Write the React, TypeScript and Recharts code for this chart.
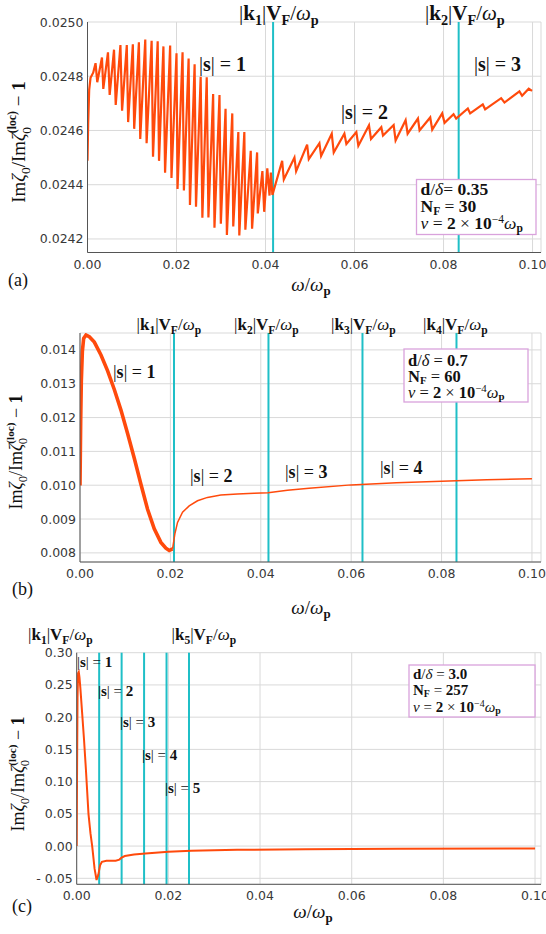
import { LineChart, Line, XAxis, YAxis, ReferenceLine, CartesianGrid } from 'recharts'

const W = 546
const ORANGE = '#ff4a0c'
const CYAN = '#1fbfc7'
const GRID = '#d9d9d9'
const FRAME = '#555555'
const TICK_TEXT = '#383838'
const PINK = '#d9a2dc'
const SERIF = '"Liberation Serif", "DejaVu Serif", serif'
const SANS = '"DejaVu Sans", sans-serif'

// ---- panel (a): d/δ = 0.35, N_F = 30 ----
const aOmega = [
  0, 0.00015, 0.00038, 0.00068, 0.00128,
  0.00181, 0.00219, 0.00325, 0.00355, 0.0046, 0.00498, 0.00596, 0.00634, 0.0074, 0.00777,
  0.00883, 0.00913, 0.01019, 0.01049, 0.01155, 0.01185, 0.01298, 0.01328, 0.01441, 0.01472,
  0.01577, 0.01607, 0.01706, 0.01743, 0.01857, 0.01887, 0.02, 0.02023, 0.02136, 0.02166,
  0.02272, 0.02302, 0.02407, 0.02438, 0.02543, 0.02581, 0.02679, 0.02717, 0.02823, 0.02853,
  0.02966, 0.02996, 0.03102, 0.03132, 0.03253, 0.03275, 0.03389, 0.03411, 0.03524, 0.03547,
  0.03668, 0.03698, 0.03811, 0.03826,
  0.0393, 0.0397, 0.0404, 0.0409, 0.0412, 0.04155,
  0.04374, 0.04411, 0.0465, 0.04688, 0.04935, 0.04972, 0.05211, 0.05249, 0.05488, 0.05533,
  0.05772, 0.05817, 0.06041, 0.06086, 0.06325, 0.0637, 0.06602, 0.0664, 0.06879, 0.06923,
  0.07148, 0.07193, 0.07425, 0.07462, 0.07701, 0.07746, 0.0797, 0.08023, 0.08225, 0.08284,
  0.08546, 0.08598, 0.08882, 0.08935, 0.09294, 0.09369, 0.09705, 0.09765, 0.09914, 0.09989,
]
const aValue = [
  0.024488, 0.024625, 0.02475, 0.024794, 0.024813,
  0.024848, 0.024778, 0.024869, 0.024753, 0.024888, 0.024731, 0.024898, 0.024694, 0.024915, 0.024673,
  0.024915, 0.024631, 0.024918, 0.024606, 0.024925, 0.024569, 0.024935, 0.024553, 0.024931, 0.024503,
  0.024929, 0.024488, 0.02491, 0.024444, 0.024913, 0.024425, 0.024885, 0.024384, 0.024888, 0.024379,
  0.024865, 0.024325, 0.024844, 0.024319, 0.024798, 0.024278, 0.024796, 0.024279, 0.024734, 0.024241,
  0.024731, 0.024256, 0.02468, 0.024215, 0.024663, 0.024246, 0.024594, 0.024213, 0.024594, 0.024234,
  0.024525, 0.024238, 0.024519, 0.024294,
  0.02445, 0.0243, 0.02446, 0.02436, 0.024445, 0.024362,
  0.024488, 0.024419, 0.0245, 0.02445, 0.024548, 0.024494, 0.024553, 0.024506, 0.024588, 0.024519,
  0.024588, 0.02455, 0.024594, 0.024544, 0.024619, 0.024569, 0.024612, 0.024581, 0.02462, 0.024563,
  0.024638, 0.024588, 0.024644, 0.0246, 0.024648, 0.024603, 0.024663, 0.024628, 0.02466, 0.024644,
  0.024681, 0.024663, 0.024696, 0.024678, 0.024719, 0.024703, 0.024744, 0.024728, 0.024754, 0.024746,
]
const aKLines = [0.0417, 0.0834]
const aYTicks = [0.0242, 0.0244, 0.0246, 0.0248, 0.025]

// ---- panel (b): d/δ = 0.7, N_F = 60 ----
const bBulkOmega = [
  0, 0.00015, 0.00029, 0.00052, 0.00081, 0.00133, 0.00206, 0.00317, 0.00464, 0.00611, 0.00759,
  0.00906, 0.01053, 0.01201, 0.01348, 0.01495, 0.01643, 0.0179, 0.019, 0.01974, 0.02048,
]
const bBulkValue = [
  0.00999, 0.01189, 0.01307, 0.01395, 0.01434, 0.01444, 0.01439, 0.01423, 0.01385, 0.01338, 0.01283,
  0.01222, 0.01153, 0.0108, 0.01003, 0.00929, 0.00871, 0.00831, 0.00814, 0.00807, 0.00812,
]
const bTailOmega = [
  0.02048, 0.02099, 0.02158, 0.02269, 0.02416, 0.026, 0.02821, 0.03116, 0.03484, 0.03852,
  0.04162, 0.04589, 0.05068, 0.06, 0.07, 0.08, 0.09, 0.1,
]
const bTailValue = [
  0.00812, 0.00856, 0.0089, 0.0092, 0.00939, 0.00954, 0.00964, 0.00971, 0.00974, 0.00976,
  0.00978, 0.00985, 0.00991, 0.01001, 0.01007, 0.01012, 0.01016, 0.01019,
]
const bKLines = [0.0208, 0.0417, 0.0625, 0.0833]
const bYTicks = [0.008, 0.009, 0.01, 0.011, 0.012, 0.013, 0.014]

// ---- panel (c): d/δ = 3.0, N_F = 257 ----
const cOmega = [
  0, 0.00008, 0.00018, 0.0003, 0.00045, 0.0006, 0.0008, 0.0012, 0.0016, 0.002,
  0.00257, 0.003, 0.00338, 0.0039, 0.00433, 0.0047, 0.0051, 0.0055, 0.0065, 0.0085,
  0.0093, 0.0098, 0.0105, 0.0125, 0.015, 0.02, 0.025, 0.035, 0.05, 0.07, 0.1,
]
const cValue = [
  0, 0.12, 0.23, 0.268, 0.27, 0.262, 0.245, 0.205, 0.165, 0.12,
  0.05, 0.02, 0, -0.035, -0.0526, -0.045, -0.03, -0.0245, -0.0228, -0.0226,
  -0.021, -0.018, -0.0155, -0.013, -0.0115, -0.0088, -0.0072, -0.0058, -0.0048, -0.0042, -0.0038,
]
const cKLines = [0.0049, 0.0098, 0.0147, 0.0196, 0.0245]
const cYTicks = [-0.05, 0, 0.05, 0.1, 0.15, 0.2, 0.25, 0.3]

const xTicks = [0, 0.02, 0.04, 0.06, 0.08, 0.1]

const zip = (ws: number[], vs: number[]) => ws.map((w, i) => ({ w, v: vs[i] }))

// minor tick positions between the labelled ones
function minors(lo: number, hi: number, step: number) {
  const out: number[] = []
  const n = Math.round((hi - lo) / step)
  for (let i = 0; i <= n; i++) out.push(+(lo + i * step).toFixed(6))
  return out
}

const isMajor = (v: number, majors: number[]) => majors.some((m) => Math.abs(m - v) < 1e-9)

type Series = { data: { w: number; v: number }[]; width: number }

interface PanelProps {
  y: number
  height: number
  top: number
  left: number
  right: number
  bottom: number
  xDomain: [number, number]
  yDomain: [number, number]
  yTicks: number[]
  xMinor: number[]
  yMinor: number[]
  yFmt: (v: number) => string
  kLines: number[]
  series: Series[]
}

function Panel(p: PanelProps) {
  const plotW = W - p.left - p.right
  const plotH = p.height - p.top - p.bottom
  const allX = [...xTicks, ...p.xMinor]
  const allY = [...p.yTicks, ...p.yMinor]

  const bottomTick = (t: any) => (
    <text x={t.x} y={t.y + 16} textAnchor="middle" fontFamily={SANS} fontSize={12.5} fill={TICK_TEXT}>
      {t.payload.value.toFixed(2)}
    </text>
  )
  const leftTick = (t: any) => (
    <text x={t.x - 4} y={t.y + 4.5} textAnchor="end" fontFamily={SANS} fontSize={12.5} fill={TICK_TEXT}>
      {p.yFmt(t.payload.value)}
    </text>
  )
  // frame ticks point inwards on all four sides
  const topTick = (t: any) => {
    const len = isMajor(t.payload.value, xTicks) ? 6 : 3.5
    return (
      <g>
        <line x1={t.x} x2={t.x} y1={t.y} y2={t.y + len} stroke={FRAME} />
        <line x1={t.x} x2={t.x} y1={t.y + plotH} y2={t.y + plotH - len} stroke={FRAME} />
      </g>
    )
  }
  const rightTick = (t: any) => {
    const len = isMajor(t.payload.value, p.yTicks) ? 6 : 3.5
    return (
      <g>
        <line x1={t.x} x2={t.x - len} y1={t.y} y2={t.y} stroke={FRAME} />
        <line x1={t.x - plotW} x2={t.x - plotW + len} y1={t.y} y2={t.y} stroke={FRAME} />
      </g>
    )
  }

  return (
    <div style={{ position: 'absolute', left: 0, top: p.y }}>
      <LineChart width={W} height={p.height} margin={{ top: p.top, right: p.right, bottom: 0, left: 0 }}>
        <CartesianGrid xAxisId="b" yAxisId="l" stroke={GRID} />
        <XAxis
          xAxisId="b" type="number" dataKey="w" domain={p.xDomain} ticks={xTicks} interval={0}
          height={p.bottom} tickSize={0} tickMargin={0} tickLine={false} tick={bottomTick}
          axisLine={{ stroke: FRAME }} allowDataOverflow
        />
        <XAxis
          xAxisId="t" orientation="top" type="number" dataKey="w" domain={p.xDomain} ticks={allX} interval={0}
          height={0} tickSize={0} tickMargin={0} tickLine={false} tick={topTick}
          axisLine={{ stroke: FRAME }} allowDataOverflow
        />
        <YAxis
          yAxisId="l" type="number" domain={p.yDomain} ticks={p.yTicks} interval={0}
          width={p.left} tickSize={0} tickMargin={0} tickLine={false} tick={leftTick}
          axisLine={{ stroke: FRAME }} allowDataOverflow
        />
        <YAxis
          yAxisId="r" orientation="right" type="number" domain={p.yDomain} ticks={allY} interval={0}
          width={0} tickSize={0} tickMargin={0} tickLine={false} tick={rightTick}
          axisLine={{ stroke: FRAME }} allowDataOverflow
        />
        {p.kLines.map((k) => (
          <ReferenceLine key={k} xAxisId="b" yAxisId="l" x={k} stroke={CYAN} strokeWidth={2} />
        ))}
        {p.series.map((s, i) => (
          <Line
            key={i} xAxisId="b" yAxisId="l" data={s.data} dataKey="v" type="linear"
            stroke={ORANGE} strokeWidth={s.width} dot={false} isAnimationActive={false}
          />
        ))}
      </LineChart>
    </div>
  )
}

// |k_n| V_F / ω_p
function KLabel({ x, y, n, size }: { x: number; y: number; n: number; size: number }) {
  const s = size * 0.68
  const d = size * 0.22
  return (
    <text x={x} y={y} fontFamily={SERIF} fontSize={size} fill="#111">
      <tspan>|</tspan>
      <tspan fontWeight="bold">k</tspan>
      <tspan fontWeight="bold" fontSize={s} dy={d}>{n}</tspan>
      <tspan dy={-d}>|</tspan>
      <tspan fontWeight="bold">V</tspan>
      <tspan fontWeight="bold" fontSize={s} dy={d}>F</tspan>
      <tspan dy={-d}>/</tspan>
      <tspan fontStyle="italic">ω</tspan>
      <tspan fontWeight="bold" fontSize={s} dy={d}>p</tspan>
    </text>
  )
}

function SLabel({ x, y, n, size }: { x: number; y: number; n: number; size: number }) {
  return (
    <text x={x} y={y} fontFamily={SERIF} fontSize={size} fill="#111">
      <tspan>|</tspan>
      <tspan fontWeight="bold">s</tspan>
      <tspan>| = </tspan>
      <tspan fontWeight="bold">{n}</tspan>
    </text>
  )
}

function YLabel({ cx, cy, size }: { cx: number; cy: number; size: number }) {
  return (
    <text transform={`translate(${cx},${cy}) rotate(-90)`} textAnchor="middle" fontFamily={SERIF} fontSize={size} fill="#111">
      <tspan>Im</tspan>
      <tspan fontStyle="italic">ζ</tspan>
      <tspan fontSize={size * 0.7} dy={size * 0.25}>0</tspan>
      <tspan dy={-size * 0.25}>/Im</tspan>
      <tspan fontStyle="italic">ζ</tspan>
      <tspan fontSize={size * 0.62} fontWeight="bold" dy={-size * 0.45}>(loc)</tspan>
      <tspan fontSize={size * 0.7} dx={-size * 1.2} dy={size * 0.75}>0</tspan>
      <tspan dx={size * 0.85} dy={-size * 0.3}> − </tspan>
      <tspan fontWeight="bold">1</tspan>
    </text>
  )
}

function XLabel({ cx, y, size }: { cx: number; y: number; size: number }) {
  return (
    <text x={cx} y={y} textAnchor="middle" fontFamily={SERIF} fontSize={size} fill="#111">
      <tspan fontStyle="italic">ω</tspan>
      <tspan>/</tspan>
      <tspan fontStyle="italic">ω</tspan>
      <tspan fontWeight="bold" fontSize={size * 0.68} dy={size * 0.22}>p</tspan>
    </text>
  )
}

function ParamBox(props: {
  x: number; y: number; w: number; h: number; size: number; ratio: string; nf: string; gap: string; lines: number[]
}) {
  const { x, y, w, h, size, ratio, nf, gap, lines } = props
  const s = size * 0.66
  return (
    <g fontFamily={SERIF} fontSize={size} fill="#111">
      <rect x={x} y={y} width={w} height={h} fill="#fff" stroke={PINK} strokeWidth={1.3} />
      <text x={x + 4} y={lines[0]}>
        <tspan fontWeight="bold">d</tspan>
        <tspan>/</tspan>
        <tspan fontStyle="italic">δ</tspan>
        <tspan>{gap}= </tspan>
        <tspan fontWeight="bold">{ratio}</tspan>
      </text>
      <text x={x + 4} y={lines[1]}>
        <tspan fontWeight="bold">N</tspan>
        <tspan fontWeight="bold" fontSize={s} dy={size * 0.15}>F</tspan>
        <tspan dy={-size * 0.15}> = </tspan>
        <tspan fontWeight="bold">{nf}</tspan>
      </text>
      <text x={x + 4} y={lines[2]}>
        <tspan fontStyle="italic">ν</tspan>
        <tspan> = </tspan>
        <tspan fontWeight="bold">2</tspan>
        <tspan> × </tspan>
        <tspan fontWeight="bold">10</tspan>
        <tspan fontSize={s} dy={-size * 0.34}>−4</tspan>
        <tspan fontStyle="italic" dy={size * 0.34}>ω</tspan>
        <tspan fontWeight="bold" fontSize={s} dy={size * 0.15}>p</tspan>
      </text>
    </g>
  )
}

export default function App() {
  return (
    <div style={{ position: 'absolute', left: 0, top: 0, width: W, height: 934, background: '#fff', overflow: 'hidden' }}>
      <Panel
        y={0} height={300} top={22} left={87.5} right={5} bottom={47.5}
        xDomain={[0, 0.1019]} yDomain={[0.02415, 0.025]} yTicks={aYTicks}
        xMinor={minors(0.005, 0.1, 0.005)} yMinor={minors(0.02415, 0.025, 0.00005)}
        yFmt={(v) => v.toFixed(4)} kLines={aKLines}
        series={[{ data: zip(aOmega, aValue), width: 2.2 }]}
      />
      <Panel
        y={310} height={290} top={23} left={80} right={5} bottom={38}
        xDomain={[0, 0.102]} yDomain={[0.00773, 0.0145]} yTicks={bYTicks}
        xMinor={minors(0.005, 0.1, 0.005)} yMinor={minors(0.0078, 0.0144, 0.0002)}
        yFmt={(v) => v.toFixed(3)} kLines={bKLines}
        series={[
          { data: zip(bBulkOmega, bBulkValue), width: 3.6 },
          { data: zip(bTailOmega, bTailValue), width: 1.5 },
        ]}
      />
      <Panel
        y={620} height={314} top={32.7} left={76.7} right={5} bottom={49.7}
        xDomain={[0, 0.1013]} yDomain={[-0.0593, 0.3]} yTicks={cYTicks}
        xMinor={minors(0.005, 0.1, 0.005)} yMinor={minors(-0.05, 0.3, 0.01)}
        yFmt={(v) => (v < 0 ? '- ' + Math.abs(v).toFixed(2) : v.toFixed(2))} kLines={cKLines}
        series={[{ data: zip(cOmega, cValue), width: 2 }]}
      />

      <svg width={W} height={934} style={{ position: 'absolute', left: 0, top: 0, pointerEvents: 'none' }}>
        {/* (a) */}
        <KLabel x={239} y={20} n={1} size={21} />
        <KLabel x={425} y={20} n={2} size={21} />
        <SLabel x={199} y={71} n={1} size={20} />
        <SLabel x={341} y={119} n={2} size={20} />
        <SLabel x={474} y={71} n={3} size={20} />
        <ParamBox x={416.5} y={179.5} w={119.5} h={55} size={17.5} ratio="0.35" nf="30" gap="" lines={[195, 212, 229]} />
        <YLabel cx={25} cy={142} size={19} />
        <XLabel cx={311} y={291} size={19} />
        <text x={8} y={286} fontFamily={SERIF} fontSize={18} fill="#111">(a)</text>

        {/* (b) */}
        <KLabel x={136.5} y={330} n={1} size={17} />
        <KLabel x={234} y={330} n={2} size={17} />
        <KLabel x={331} y={330} n={3} size={17} />
        <KLabel x={423} y={330} n={4} size={17} />
        <SLabel x={113} y={378} n={1} size={18} />
        <SLabel x={190} y={482} n={2} size={18} />
        <SLabel x={285} y={478} n={3} size={18} />
        <SLabel x={380} y={474} n={4} size={18} />
        <ParamBox x={404} y={349} w={124} h={53} size={16.5} ratio="0.7" nf="60" gap=" " lines={[366, 382, 398]} />
        <YLabel cx={22} cy={452} size={18} />
        <XLabel cx={311} y={614} size={19} />
        <text x={12} y={595} fontFamily={SERIF} fontSize={18} fill="#111">(b)</text>

        {/* (c) */}
        <KLabel x={28} y={640} n={1} size={17} />
        <KLabel x={171.5} y={640} n={5} size={17} />
        <SLabel x={77} y={667} n={1} size={15} />
        <SLabel x={98} y={696} n={2} size={15} />
        <SLabel x={120} y={727} n={3} size={15} />
        <SLabel x={142} y={760} n={4} size={15} />
        <SLabel x={165} y={793} n={5} size={15} />
        <ParamBox x={409} y={665} w={126} h={52} size={15} ratio="3.0" nf="257" gap=" " lines={[679, 695, 712]} />
        <YLabel cx={24} cy={774} size={18} />
        <XLabel cx={313} y={918} size={19} />
        <text x={12} y={912} fontFamily={SERIF} fontSize={18} fill="#111">(c)</text>
      </svg>
    </div>
  )
}
